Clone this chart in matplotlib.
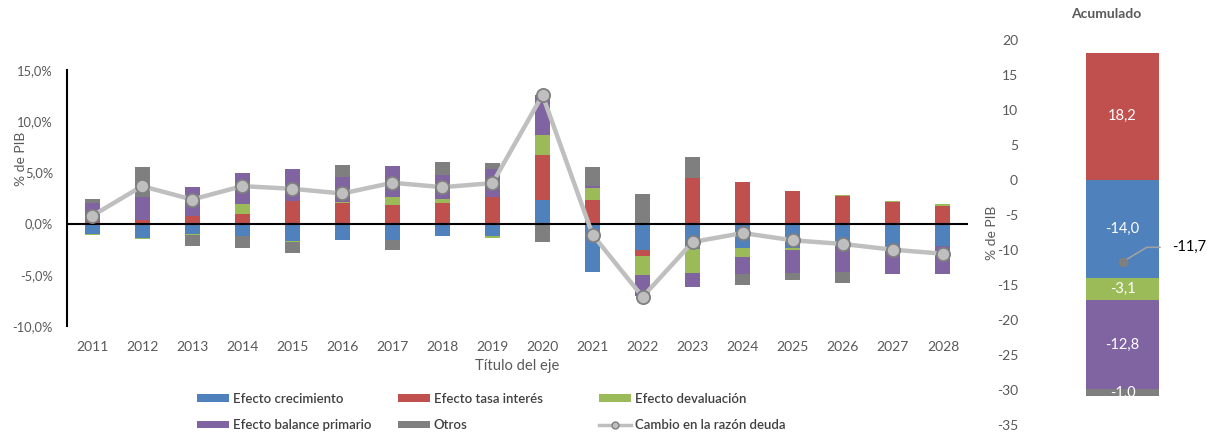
import matplotlib
matplotlib.use('Agg')
import matplotlib.pyplot as plt
import numpy as np
from matplotlib.lines import Line2D
from matplotlib.patches import Patch
from matplotlib.ticker import FuncFormatter, MultipleLocator

plt.rcParams['font.family'] = ['Lato', 'DejaVu Sans']
plt.rcParams['axes.unicode_minus'] = False

# Data
years = ['2011', '2012', '2013', '2014', '2015', '2016', '2017', '2018', '2019',
         '2020', '2021', '2022', '2023', '2024', '2025', '2026', '2027', '2028']
crecimiento = [-1.0, -1.4, -1.0, -1.2, -1.73, -1.57, -1.63, -1.2, -1.24,
               2.35, -4.7, -2.58, -2.52, -2.35, -2.39, -2.29, -2.68, -2.19]
tasa_interes = [0.2, 0.33, 0.75, 0.92, 2.19, 2.0, 1.83, 2.06, 2.55,
                4.38, 2.29, -0.62, 4.48, 4.05, 3.14, 2.68, 2.12, 1.76]
devaluacion = [-0.1, -0.07, -0.1, 0.98, -0.07, 0.13, 0.78, 0.33, -0.13,
               1.9, 1.14, -1.86, -2.29, -0.92, -0.2, 0.1, 0.13, 0.13]
balance_primario = [1.86, 2.22, 2.78, 3.0, 3.1, 2.45, 2.97, 2.35, 2.75,
                    3.92, 0.2, -2.03, -1.4, -1.67, -2.19, -2.45, -2.22, -2.75]
otros = [0.39, 3.0, -1.08, -1.2, -1.08, 1.14, -0.95, 1.24, 0.59,
         -1.83, 1.86, 2.9, 2.03, -1.01, -0.72, -1.05, -0.07, 0.0]
cambio_deuda = [0.75, 3.66, 2.35, 3.66, 3.4, 2.94, 3.99, 3.56, 3.95,
                12.55, -1.08, -7.16, -1.8, -0.92, -1.63, -1.99, -2.55, -2.94]

series_names = ['Efecto crecimiento', 'Efecto tasa interés', 'Efecto devaluación',
                'Efecto balance primario', 'Otros']
series_colors = ['#4F81BD', '#C0504D', '#9BBB59', '#8064A2', '#7F7F7F']
line_name = 'Cambio en la razón deuda'

# Accumulated panel (same order as series)
acumulado = [-14.0, 18.2, -3.1, -12.8, -1.0]
acumulado_total = -11.7

text_gray = '#595959'

fig = plt.figure(figsize=(12.08, 4.34), dpi=100)
W, H = 1208, 434
ax = fig.add_axes([67 / W, (H - 326) / H, (968 - 67) / W, (326 - 70) / H])

x = np.arange(len(years))
series = [crecimiento, tasa_interes, devaluacion, balance_primario, otros]
pos_bottom = np.zeros(len(years))
neg_bottom = np.zeros(len(years))
for vals, name, col in zip(series, series_names, series_colors):
    v = np.array(vals)
    bottom = np.where(v >= 0, pos_bottom, neg_bottom)
    ax.bar(x, v, bottom=bottom, width=0.3, color=col, label=name, zorder=2)
    pos_bottom += np.where(v >= 0, v, 0)
    neg_bottom += np.where(v < 0, v, 0)

ax.plot(x, cambio_deuda, color='#BFBFBF', linewidth=3.2, marker='o',
        markersize=9.5, markerfacecolor='#BFBFBF', markeredgecolor='#7F7F7F',
        markeredgewidth=1.3, label=line_name, zorder=4)

ax.axhline(0, color='black', linewidth=1.5, zorder=3)
ax.set_xlim(-0.5, len(years) - 0.5)
ax.set_ylim(-10, 15)
ax.yaxis.set_major_locator(MultipleLocator(5))
ax.yaxis.set_major_formatter(FuncFormatter(lambda v, p: f'{v:.1f}%'.replace('.', ',')))
ax.set_xticks(x)
ax.set_xticklabels(years)
ax.tick_params(axis='both', length=0, labelcolor=text_gray)
ax.tick_params(axis='x', pad=11, labelsize=10)
ax.tick_params(axis='y', pad=10, labelsize=9.3)
for s in ['top', 'right', 'bottom']:
    ax.spines[s].set_visible(False)
ax.spines['left'].set_color('black')
ax.spines['left'].set_linewidth(1.5)
ax.set_xlabel('Título del eje', fontsize=10.6, color=text_gray, labelpad=4)
ax.set_ylabel('% de PIB', fontsize=10, color=text_gray)
ax.yaxis.set_label_coords(-0.044, 0.655)

# Legend: three aligned columns, filled row by row
legend_cols = [[0, 3], [1, 4], [2, 'line']]
col_x = [197, 398, 599]
for entries, cx in zip(legend_cols, col_x):
    hs, ls = [], []
    for e in entries:
        if e == 'line':
            hs.append(Line2D([], [], color='#BFBFBF', linewidth=2.5, marker='o', markersize=5,
                             markerfacecolor='#BFBFBF', markeredgecolor='#7F7F7F',
                             markeredgewidth=1.0))
            ls.append(line_name)
        else:
            hs.append(Patch(facecolor=series_colors[e]))
            ls.append(series_names[e])
    fig.legend(hs, ls, loc='center left', bbox_to_anchor=(cx / W, (H - 412) / H),
               frameon=False, handlelength=2.4, handleheight=0.45,
               labelspacing=1.1, handletextpad=0.3, borderpad=0, borderaxespad=0,
               labelcolor='#404040', prop={'weight': 'semibold', 'size': 9.5})

# Accumulated panel
ax2 = fig.add_axes([1050 / W, (H - 425) / H, 145 / W, (425 - 40) / H])
bottom_pos = 0.0
bottom_neg = 0.0
for val, name, col in zip(acumulado, series_names, series_colors):
    if val >= 0:
        bot = bottom_pos
        bottom_pos += val
    else:
        bot = bottom_neg
        bottom_neg += val
    ax2.bar([0], [val], bottom=[bot], width=1.0, color=col, zorder=2)
    ax2.text(0, bot + val / 2, f'{val:.1f}'.replace('.', ','), ha='center', va='center',
             color='white', fontsize=10.5, zorder=3)

ax2.plot([0], [acumulado_total], marker='o', markersize=6, color='#7F7F7F', zorder=4)
ax2.annotate(f'{acumulado_total:.1f}'.replace('.', ','), xy=(0, acumulado_total),
             xytext=(36, 10.5), textcoords='offset points', ha='left', va='center',
             fontsize=10.5, color='black',
             arrowprops=dict(arrowstyle='-', color='#A0A0A0', linewidth=1.2,
                             connectionstyle='angle,angleA=0,angleB=31,rad=0',
                             shrinkA=7, shrinkB=0, relpos=(0, 0.5)))

ax2.set_xlim(-1, 1)
ax2.set_ylim(-35, 20)
ax2.yaxis.set_major_locator(MultipleLocator(5))
ax2.set_xticks([])
ax2.tick_params(axis='y', length=0, labelsize=10, labelcolor=text_gray, pad=23)
for s in ax2.spines.values():
    s.set_visible(False)
ax2.set_ylabel('% de PIB', fontsize=10, color=text_gray)
ax2.yaxis.set_label_coords(-0.36, 0.5)
ax2.set_title('Acumulado', fontsize=10, fontweight='bold', color=text_gray, x=0.39, pad=16)

plt.savefig('out.png', dpi=100)
plt.close()
